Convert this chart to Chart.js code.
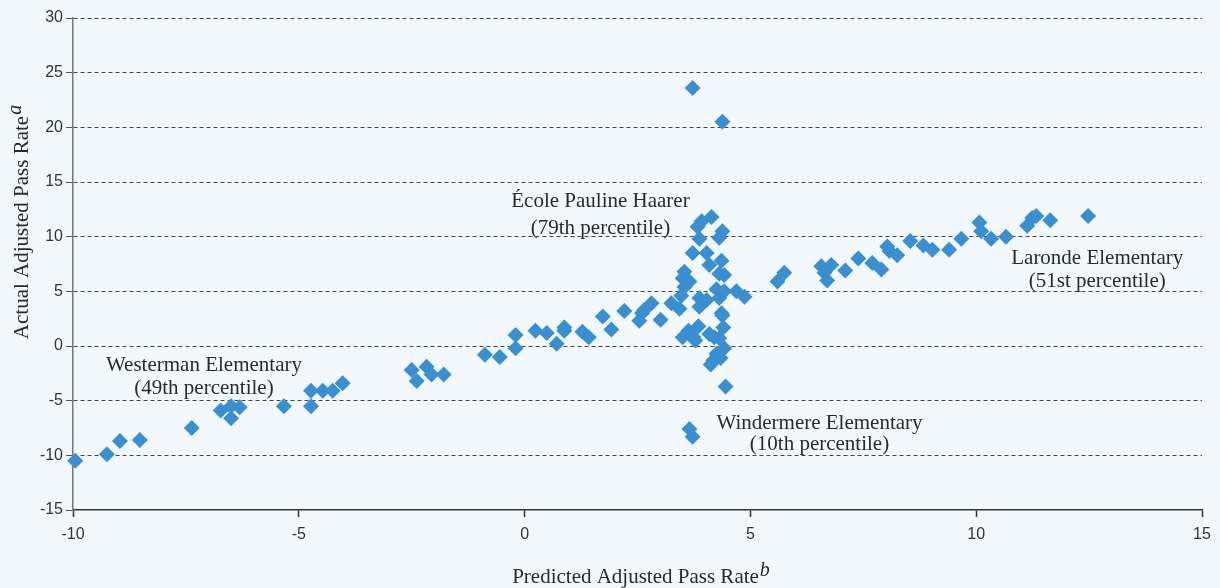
<!DOCTYPE html>
<html><head><meta charset="utf-8">
<script src="https://cdn.jsdelivr.net/npm/chart.js@4"></script>
<style>html,body{margin:0;padding:0;background:#f2f8fc;}canvas{display:block}</style>
</head><body>
<canvas id="c" width="1220" height="588"></canvas>
<script>
// ---- data (predicted = x, actual = y) ----
const westPredicted = [-9.95,-9.25,-8.96,-8.52,-7.37,-6.73,-6.50,-6.50,-6.31,-5.33,-4.73,-4.73,-4.47,-4.25,-4.03];
const westActual    = [-10.5,-9.9,-8.7,-8.6,-7.5,-5.9,-5.5,-6.6,-5.6,-5.5,-4.1,-5.5,-4.1,-4.1,-3.4];

const centerPredicted = [-2.50,-2.39,-2.17,-2.06,-1.79,-0.88,-0.55,-0.20,-0.20,0.24,0.49,0.71,0.88,0.88,1.28,1.42,1.73,1.92,2.21,2.54,2.60,2.65,2.81,3.01,3.25,3.43];
const centerActual    = [-2.2,-3.2,-1.9,-2.6,-2.6,-0.8,-1.0,1.0,-0.2,1.4,1.2,0.2,1.7,1.4,1.3,0.8,2.7,1.5,3.2,2.3,3.0,3.3,3.9,2.4,3.9,3.4];

const spikePredicted = [3.72,4.38,3.92,4.14,3.83,3.87,4.38,4.31,3.72,4.03,4.09,4.36,4.42,4.31,3.54,3.50,3.65,3.54,4.25,4.42,4.69,4.87,3.47,3.87,4.03,4.31,4.36,3.87,
                        3.50,3.63,3.74,3.85,3.78,4.09,4.20,4.31,4.25,4.18,4.12,4.34,4.42,4.40,4.38,4.45,3.65,3.72];
const spikeActual    = [23.6,20.5,11.4,11.8,10.9,9.8,10.5,9.9,8.5,8.5,7.4,7.8,6.5,6.6,6.8,6.2,5.9,5.4,5.2,5.0,5.0,4.5,4.6,4.4,4.2,4.4,3.0,3.6,
                        0.8,1.4,0.8,1.8,0.5,1.1,0.8,0.7,-0.7,-1.3,-1.7,-1.1,-0.2,1.7,2.8,-3.7,-7.6,-8.3];

const rightPredicted = [5.60,5.75,6.57,6.64,6.70,6.79,7.10,7.39,7.70,7.90,8.03,8.08,8.25,8.54,8.83,9.03,9.40,9.67,10.07,10.11,10.33,10.66,11.13,11.24,11.33,11.64,12.48];
const rightActual    = [5.9,6.7,7.3,6.7,6.0,7.4,6.9,8.0,7.6,7.0,9.1,8.7,8.3,9.6,9.2,8.8,8.8,9.8,11.3,10.5,9.8,10.0,11.0,11.7,11.9,11.5,11.9];

const xTickValues = [-10,-5,0,5,10,15];
const yTickValues = [-15,-10,-5,0,5,10,15,20,25,30];

const xTitle = 'Predicted Adjusted Pass Rate', xTitleSup = 'b';
const yTitle = 'Actual Adjusted Pass Rate',   yTitleSup = 'a';

const schoolNames   = ['École Pauline Haarer','Westerman Elementary','Windermere Elementary','Laronde Elementary'];
const schoolPercent = ['(79th percentile)','(49th percentile)','(10th percentile)','(51st percentile)'];
// ---- end data ----

const toPoints = (xs, ys) => xs.map((x, i) => ({x, y: ys[i]}));
const allPoints = [].concat(
  toPoints(westPredicted, westActual),
  toPoints(centerPredicted, centerActual),
  toPoints(spikePredicted, spikeActual),
  toPoints(rightPredicted, rightActual)
);

// label anchors (data coords of first line centre) and line gap in px
const labelAnchors = [
  {x: 1.68, y: 13.2, gap: 27},
  {x: -7.1, y: -1.75, gap: 23},
  {x: 6.53, y: -7.1, gap: 21},
  {x: 12.68, y: 8.05, gap: 23}
];

const SERIF = '"Liberation Serif", "DejaVu Serif", serif';
const SANS = '"Liberation Sans", Arial, sans-serif';

const overlay = {
  id: 'overlay',
  afterDraw(chart) {
    const ctx = chart.ctx;
    const xs = chart.scales.x, ys = chart.scales.y;
    ctx.save();
    ctx.fillStyle = '#2a2a2a';
    ctx.font = '21px ' + SERIF;
    ctx.textAlign = 'center';
    ctx.textBaseline = 'middle';
    labelAnchors.forEach((a, i) => {
      const px = xs.getPixelForValue(a.x), py = ys.getPixelForValue(a.y);
      ctx.fillText(schoolNames[i], px, py);
      ctx.fillText(schoolPercent[i], px, py + a.gap);
    });
    // x title
    ctx.textBaseline = 'alphabetic';
    ctx.textAlign = 'left';
    ctx.font = '21px ' + SERIF;
    const wx = ctx.measureText(xTitle).width;
    ctx.font = 'italic 20px ' + SERIF;
    const wxs = ctx.measureText(xTitleSup).width;
    let sx = 641 - (wx + wxs + 1) / 2;
    ctx.font = '21px ' + SERIF;
    ctx.fillText(xTitle, sx, 583);
    ctx.font = 'italic 20px ' + SERIF;
    ctx.fillText(xTitleSup, sx + wx + 1, 576);
    // y title
    ctx.translate(28, 222);
    ctx.rotate(-Math.PI / 2);
    ctx.font = '21px ' + SERIF;
    const wy = ctx.measureText(yTitle).width;
    ctx.font = 'italic 20px ' + SERIF;
    const wys = ctx.measureText(yTitleSup).width;
    const sy = -(wy + wys + 1) / 2;
    ctx.font = '21px ' + SERIF;
    ctx.fillText(yTitle, sy, 0);
    ctx.font = 'italic 20px ' + SERIF;
    ctx.fillText(yTitleSup, sy + wy + 1, -7);
    ctx.restore();
  }
};

new Chart(document.getElementById('c'), {
  type: 'scatter',
  data: {
    datasets: [{
      data: allPoints,
      pointStyle: 'rectRot',
      pointRadius: 8,
      pointHoverRadius: 8,
      backgroundColor: '#3a8fd0',
      borderColor: '#3a8fd0',
      borderWidth: 0,
      clip: false
    }]
  },
  options: {
    responsive: false,
    devicePixelRatio: 1,
    animation: false,
    events: [],
    layout: {padding: {top: 18, right: 18, left: 0, bottom: 0}},
    plugins: {legend: {display: false}, tooltip: {enabled: false}},
    scales: {
      x: {
        type: 'linear', min: -10, max: 15,
        afterBuildTicks: s => { s.ticks = xTickValues.map(v => ({value: v})); },
        afterFit: s => { s.height = 78; },
        ticks: {font: {family: SANS, size: 16}, color: '#333', padding: 8, maxRotation: 0},
        grid: {drawOnChartArea: false, drawTicks: true, tickLength: 7, tickColor: '#333', tickWidth: 1.5, tickBorderDash: [1, 0]},
        border: {color: '#333', width: 1.5}
      },
      y: {
        type: 'linear', min: -15, max: 30,
        afterBuildTicks: s => { s.ticks = yTickValues.map(v => ({value: v})); },
        afterFit: s => { s.width = 73; },
        ticks: {font: {family: SANS, size: 16}, color: '#333', padding: 3},
        grid: {
          color: c => (c.tick && c.tick.value === -15) ? 'rgba(0,0,0,0)' : '#444',
          lineWidth: 1,
          drawTicks: true, tickLength: 7, tickColor: '#555', tickWidth: 1, tickBorderDash: [1, 0]
        },
        border: {color: '#777', width: 1.5, dash: [4, 3]}
      }
    }
  },
  plugins: [overlay]
});
</script>
</body></html>
